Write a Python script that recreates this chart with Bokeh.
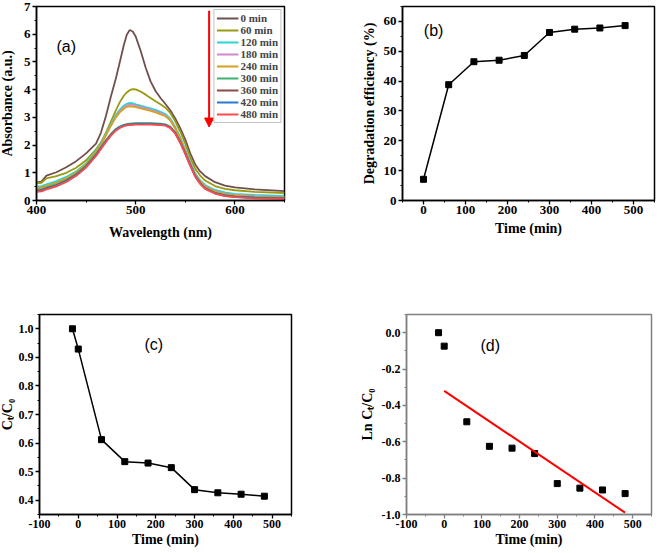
from bokeh.plotting import figure
from bokeh.layouts import column, row
from bokeh.models import (SingleIntervalTicker, Legend, LegendItem, Label, Arrow,
                          NormalHead, Range1d, NumeralTickFormatter)
from bokeh.embed import file_html
from bokeh.resources import INLINE

# ---------------- data ----------------
wavelength = [400, 405, 410, 420, 430, 440, 450, 460, 465, 470, 475, 480, 484, 488, 491,
              494, 497, 500, 505, 510, 515, 520, 525, 530, 535, 540, 545, 550, 555, 560,
              565, 570, 580, 590, 600, 620, 650]
abs_0 = [0.65, 0.68, 0.90, 1.02, 1.20, 1.42, 1.70, 2.05, 2.45, 3.05, 3.75, 4.40, 5.00, 5.60, 5.98,
         6.15, 6.10, 5.92, 5.40, 4.80, 4.30, 3.95, 3.70, 3.48, 3.25, 2.95, 2.60, 2.20, 1.70, 1.30,
         1.05, 0.88, 0.66, 0.54, 0.47, 0.40, 0.34]
abs_60 = [0.62, 0.64, 0.80, 0.88, 1.00, 1.18, 1.45, 1.85, 2.10, 2.45, 2.85, 3.25, 3.55, 3.78, 3.90,
          3.98, 4.02, 4.01, 3.93, 3.82, 3.70, 3.58, 3.47, 3.35, 3.15, 2.85, 2.48, 2.05, 1.55, 1.15,
          0.90, 0.72, 0.52, 0.42, 0.37, 0.31, 0.27]
abs_120 = [0.50, 0.52, 0.58, 0.70, 0.85, 1.05, 1.35, 1.80, 2.08, 2.40, 2.75, 3.08, 3.28, 3.42, 3.49,
           3.52, 3.51, 3.47, 3.42, 3.37, 3.32, 3.27, 3.20, 3.12, 2.95, 2.65, 2.28, 1.85, 1.40, 0.98,
           0.73, 0.56, 0.38, 0.29, 0.24, 0.20, 0.17]
abs_180 = [0.42, 0.44, 0.50, 0.62, 0.78, 0.99, 1.29, 1.74, 2.02, 2.35, 2.70, 3.02, 3.22, 3.36, 3.43,
           3.46, 3.45, 3.42, 3.37, 3.32, 3.27, 3.22, 3.15, 3.07, 2.90, 2.60, 2.23, 1.80, 1.36, 0.94,
           0.70, 0.52, 0.34, 0.25, 0.20, 0.16, 0.13]
abs_240 = [0.45, 0.47, 0.53, 0.65, 0.80, 1.01, 1.31, 1.76, 2.03, 2.36, 2.70, 3.00, 3.18, 3.31, 3.38,
           3.40, 3.39, 3.37, 3.32, 3.28, 3.23, 3.18, 3.11, 3.04, 2.88, 2.58, 2.21, 1.78, 1.34, 0.92,
           0.68, 0.50, 0.32, 0.23, 0.18, 0.14, 0.11]
abs_300 = [0.38, 0.40, 0.47, 0.58, 0.74, 0.96, 1.26, 1.68, 1.93, 2.18, 2.40, 2.58, 2.67, 2.73, 2.76,
           2.77, 2.78, 2.79, 2.79, 2.79, 2.79, 2.78, 2.77, 2.75, 2.66, 2.45, 2.12, 1.72, 1.30, 0.90,
           0.64, 0.45, 0.28, 0.19, 0.15, 0.11, 0.09]
abs_360 = [0.35, 0.37, 0.44, 0.55, 0.71, 0.93, 1.23, 1.65, 1.90, 2.15, 2.38, 2.56, 2.65, 2.71, 2.74,
           2.75, 2.76, 2.77, 2.77, 2.77, 2.77, 2.76, 2.75, 2.73, 2.64, 2.43, 2.10, 1.70, 1.28, 0.88,
           0.62, 0.44, 0.27, 0.18, 0.14, 0.10, 0.08]
abs_420 = [0.33, 0.35, 0.42, 0.53, 0.69, 0.91, 1.21, 1.63, 1.88, 2.13, 2.36, 2.54, 2.64, 2.70, 2.73,
           2.74, 2.75, 2.76, 2.76, 2.76, 2.76, 2.75, 2.74, 2.72, 2.63, 2.42, 2.09, 1.69, 1.27, 0.87,
           0.61, 0.43, 0.26, 0.17, 0.13, 0.09, 0.07]
abs_480 = [0.31, 0.33, 0.40, 0.51, 0.67, 0.89, 1.19, 1.61, 1.86, 2.11, 2.34, 2.52, 2.62, 2.68, 2.71,
           2.72, 2.73, 2.74, 2.74, 2.74, 2.74, 2.73, 2.72, 2.70, 2.61, 2.40, 2.07, 1.67, 1.25, 0.86,
           0.60, 0.42, 0.25, 0.16, 0.12, 0.08, 0.06]
spectra = [abs_0, abs_60, abs_120, abs_180, abs_240, abs_300, abs_360, abs_420, abs_480]
spectra_labels = ["0 min", "60 min", "120 min", "180 min", "240 min", "300 min",
                  "360 min", "420 min", "480 min"]
spectra_colors = ["#70504f", "#9a9a10", "#2ad4d4", "#d08ad0", "#d6a21e", "#3cb371",
                  "#8b4a4a", "#2a78d6", "#ff4a4a"]

time_b = [0, 60, 120, 180, 240, 300, 360, 420, 480]
efficiency = [7.1, 38.8, 46.5, 47.0, 48.6, 56.3, 57.4, 57.8, 58.6]

time_c = [-15, 0, 60, 120, 180, 240, 300, 360, 420, 480]
ct_c0 = [1.0, 0.929, 0.612, 0.535, 0.530, 0.514, 0.437, 0.426, 0.421, 0.414]

ln_ct_c0 = [0.0, -0.074, -0.49, -0.625, -0.635, -0.665, -0.83, -0.855, -0.865, -0.885]
fit_time = [0, 480]
fit_ln = [-0.32, -0.99]

# arrow in panel (a), data units
arrow_x = 574
arrow_y0, arrow_y1 = 6.85, 2.65

SERIF = "Liberation Serif"
SANS = "Liberation Sans"


def style(p, xint, yint, tick_size="13px", label_size="14px", color="black",
          ylab_standoff=6, xlab_standoff=4, xfmt="0", yfmt="0"):
    p.xgrid.visible = False
    p.ygrid.visible = False
    p.outline_line_color = color
    p.outline_line_width = 1.5
    p.background_fill_color = "white"
    p.border_fill_color = "white"
    p.xaxis.ticker = SingleIntervalTicker(interval=xint, num_minor_ticks=2)
    p.yaxis.ticker = SingleIntervalTicker(interval=yint, num_minor_ticks=2)
    p.xaxis.formatter = NumeralTickFormatter(format=xfmt)
    p.yaxis.formatter = NumeralTickFormatter(format=yfmt)
    for ax in (p.xaxis, p.yaxis):
        ax.axis_line_color = color
        ax.axis_line_width = 1.5
        ax.major_tick_line_color = color
        ax.minor_tick_line_color = color
        ax.major_tick_line_width = 1.3
        ax.major_tick_out = 4
        ax.major_tick_in = 0
        ax.minor_tick_out = 2
        ax.minor_tick_in = 0
        ax.major_label_text_font = SERIF
        ax.major_label_text_font_style = "bold"
        ax.major_label_text_font_size = tick_size
        ax.major_label_text_color = "black"
        ax.axis_label_text_font = SERIF
        ax.axis_label_text_font_style = "bold"
        ax.axis_label_text_font_size = label_size
        ax.axis_label_text_color = "black"
    p.yaxis.major_label_standoff = 2
    p.xaxis.major_label_standoff = 1
    p.yaxis.axis_label_standoff = ylab_standoff
    p.xaxis.axis_label_standoff = xlab_standoff


def panel_label(p, x, y, text):
    p.add_layout(Label(x=x, y=y, text=text, text_font=SANS, text_font_size="16px",
                       text_align="center", text_baseline="middle", text_color="black"))


# ---------------- (a) ----------------
pa = figure(width=330, height=272, output_backend="svg", toolbar_location=None,
            x_range=Range1d(400, 650), y_range=Range1d(0, 7),
            min_border_left=39, min_border_right=42, min_border_top=10, min_border_bottom=67)
style(pa, 100, 1, tick_size="13px", label_size="14px", ylab_standoff=6, xlab_standoff=8)
pa.xaxis.axis_label = "Wavelength (nm)"
pa.yaxis.axis_label = "Absorbance (a.u.)"
items = []
for vals, lab, col in zip(spectra, spectra_labels, spectra_colors):
    r = pa.line(wavelength, vals, line_color=col, line_width=1.8)
    items.append(LegendItem(label=lab, renderers=[r]))
leg = Legend(items=items, location="top_right", label_text_font=SERIF,
             label_text_font_style="bold", label_text_font_size="11px",
             glyph_width=22, glyph_height=10, label_height=10, label_width=10, spacing=0,
             label_standoff=2, padding=2, margin=3,
             border_line_color="#888888", border_line_width=1,
             background_fill_color="white", background_fill_alpha=1)
pa.add_layout(leg)
pa.add_layout(Arrow(x_start=arrow_x, y_start=arrow_y0, x_end=arrow_x, y_end=arrow_y1,
                    line_color="red", line_width=2,
                    end=NormalHead(size=9, fill_color="red", line_color="red")))
panel_label(pa, 430, 5.55, "(a)")

# ---------------- (b) ----------------
pb = figure(width=331, height=272, output_backend="svg", toolbar_location=None,
            x_range=Range1d(-50, 550), y_range=Range1d(0, 65),
            min_border_left=76, min_border_right=3, min_border_top=2, min_border_bottom=68)
style(pb, 100, 10, tick_size="13px", label_size="14px", ylab_standoff=4, xlab_standoff=4)
pb.xaxis.axis_label = "Time (min)"
pb.yaxis.axis_label = "Degradation efficiency (%)"
pb.line(time_b, efficiency, line_color="black", line_width=1.5)
pb.scatter(time_b, efficiency, marker="square", size=6, color="black")
panel_label(pb, 24, 57, "(b)")

# ---------------- (c) ----------------
pc = figure(width=330, height=281, output_backend="svg", toolbar_location=None,
            x_range=Range1d(-100, 550), y_range=Range1d(0.35, 1.05),
            min_border_left=40, min_border_right=35, min_border_top=36, min_border_bottom=30)
style(pc, 100, 0.1, tick_size="12px", label_size="14px", ylab_standoff=1, xlab_standoff=1,
      yfmt="0.0")
pc.xaxis.axis_label = "Time (min)"
pc.yaxis.axis_label = "Cₜ/C₀"
pc.line(time_c, ct_c0, line_color="black", line_width=1.5)
pc.scatter(time_c, ct_c0, marker="square", size=6, color="black")
panel_label(pc, 195, 0.945, "(c)")

# ---------------- (d) ----------------
pd_ = figure(width=331, height=281, output_backend="svg", toolbar_location=None,
             x_range=Range1d(-100, 550), y_range=Range1d(-1.0, 0.1),
             min_border_left=80, min_border_right=6, min_border_top=46, min_border_bottom=30)
style(pd_, 100, 0.2, tick_size="12px", label_size="14px", color="#808080", ylab_standoff=4,
      xlab_standoff=1, yfmt="0.0")
pd_.xaxis.axis_label = "Time (min)"
pd_.yaxis.axis_label = "Ln Cₜ/C₀"
pd_.scatter(time_c, ln_ct_c0, marker="square", size=6, color="black")
pd_.line(fit_time, fit_ln, line_color="red", line_width=2)
panel_label(pd_, 122, -0.068, "(d)")

layout = column(row(pa, pb), row(pc, pd_), margin=(-4, 0, 0, -4))
open("out.html", "w").write(file_html(layout, INLINE))
